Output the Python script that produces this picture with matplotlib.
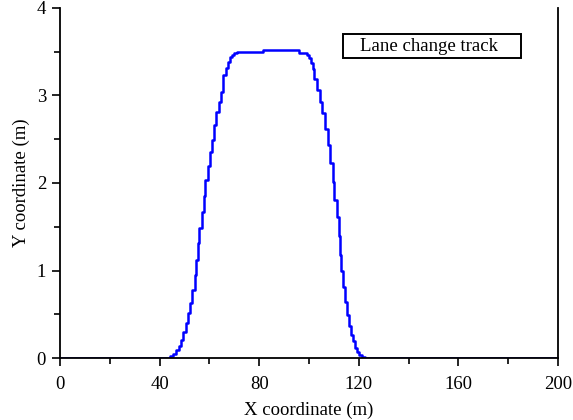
import numpy as np
import matplotlib
matplotlib.use("Agg")
import matplotlib.pyplot as plt
from matplotlib.patches import Rectangle
from matplotlib.ticker import MultipleLocator

# step track: x where the level changes (m), level after the change (m)
rise_x = [0, 44.0, 45.4, 46.6, 47.8, 48.6, 49.4, 50.6, 51.4, 52.2, 53.0, 54.2, 54.6, 55.4,
          55.8, 57.0, 57.8, 58.2, 59.4, 60.2, 61.0, 61.7, 62.7, 63.7, 64.5, 65.5, 66.5,
          67.3, 68.2, 69.0, 69.9, 71.0, 81.5]
rise_y = [0, 0.02, 0.05, 0.09, 0.14, 0.21, 0.30, 0.40, 0.51, 0.63, 0.78, 0.95, 1.12, 1.31,
          1.49, 1.67, 1.85, 2.03, 2.19, 2.35, 2.49, 2.66, 2.81, 2.93, 3.04, 3.23, 3.31,
          3.38, 3.44, 3.46, 3.49, 3.50, 3.52]
fall_x = [96.1, 99.2, 100.0, 100.8, 101.5, 102.1, 103.1, 104.4, 105.3, 106.3, 107.5, 108.4,
          109.5, 110.2, 111.1, 112.0, 112.5, 112.9, 113.8, 114.5, 115.4, 116.1, 116.9,
          117.8, 118.5, 119.2, 120.0, 121.2, 122.5, 200]
fall_y = [3.49, 3.46, 3.43, 3.37, 3.30, 3.19, 3.06, 2.93, 2.80, 2.62, 2.43, 2.23,
          2.01, 1.80, 1.61, 1.39, 1.18, 0.99, 0.81, 0.64, 0.49, 0.37, 0.26,
          0.19, 0.12, 0.07, 0.04, 0.015, 0, 0]

x_ticks = [0, 40, 80, 120, 160, 200]
y_ticks = [0, 1, 2, 3, 4]

plt.rcParams['font.family'] = ['Liberation Serif', 'DejaVu Serif']
fs = 13.5

fig = plt.figure(figsize=(5.73, 4.2), dpi=100)
ax = fig.add_axes([0.1047, 0.1476, 0.8691, 0.8334])

x = np.array(rise_x + fall_x)
y = np.array(rise_y + fall_y)
ax.plot(x, y, color='#0000ff', linewidth=1.8, drawstyle='steps-post')

ax.set_xlim(0, 200)
ax.set_ylim(0, 4)
ax.set_xticks(x_ticks)
ax.set_yticks(y_ticks)
ax.xaxis.set_minor_locator(MultipleLocator(20))
ax.yaxis.set_minor_locator(MultipleLocator(0.5))
ax.tick_params(which='major', direction='out', length=6, width=1.2, labelsize=fs, pad=7)
ax.tick_params(which='minor', direction='out', length=4, width=1.2)
ax.tick_params(axis='y', pad=4)

ax.spines['top'].set_visible(False)
for s in ['left', 'bottom', 'right']:
    ax.spines[s].set_linewidth(1.3)

ax.set_xlabel("X coordinate (m)", fontsize=fs, labelpad=6)
ax.set_ylabel("Y coordinate (m)", fontsize=fs, labelpad=5)

# label box
ax.add_patch(Rectangle((0.568, 0.857), 0.358, 0.069, transform=ax.transAxes,
                       fill=False, edgecolor='black', linewidth=1.4, clip_on=False))
ax.text(0.741, 0.891, "Lane change track", transform=ax.transAxes,
        ha='center', va='center', fontsize=fs)

fig.savefig("out.png", dpi=100)
